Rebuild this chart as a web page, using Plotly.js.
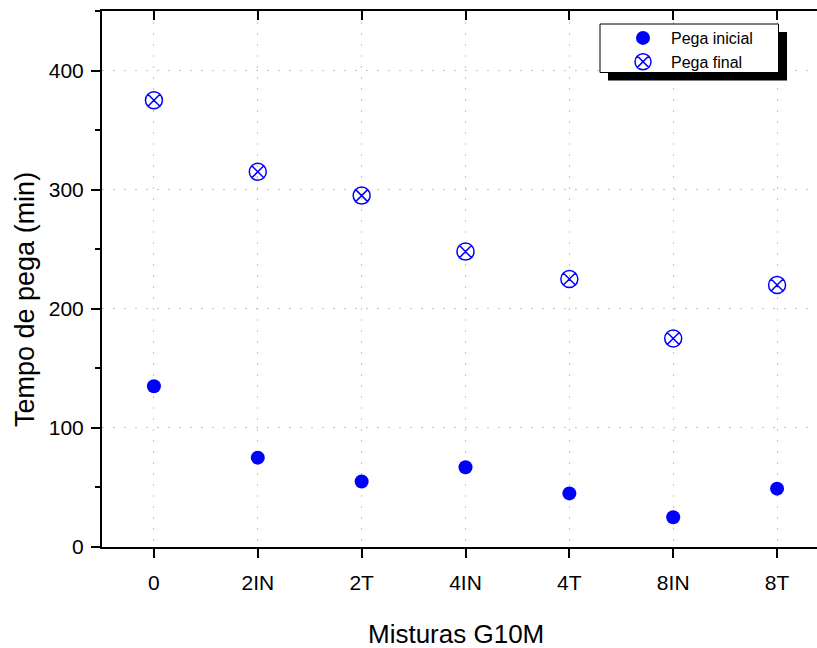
<!DOCTYPE html>
<html>
<head>
<meta charset="utf-8">
<script src="https://cdn.plot.ly/plotly-3.0.1.min.js"></script>
<style>
html,body{margin:0;padding:0;overflow:hidden;background:#fff;width:817px;height:648px;}
#chart{width:840px;height:648px;}
</style>
</head>
<body>
<div id="chart"></div>
<script>
// ---- data ----
const categories = ["0", "2IN", "2T", "4IN", "4T", "8IN", "8T"];
const pegaInicial = [135, 75, 55, 67, 45, 25, 49];
const pegaFinal = [375, 315, 295, 248, 225, 175, 220];
const seriesNames = ["Pega inicial", "Pega final"];
const yTickVals = [0, 100, 200, 300, 400];
const xTitle = "Misturas G10M";
const yTitle = "Tempo de pega (min)";

// ---- layout helpers ----
const W = 840, H = 648;
const L = 102, R = 11, T = 11, B = 101;
const PW = W - L - R, PH = H - T - B;
const px = v => (v - L) / PW;
const py = v => (H - B - v) / PH;
const FONT = "Liberation Sans, Arial, sans-serif";
const BLUE = "#0000ff";

const traces = [
  {
    x: categories, y: pegaInicial, name: seriesNames[0],
    type: "scatter", mode: "markers",
    marker: {symbol: "circle", size: 14, color: BLUE}
  },
  {
    x: categories, y: pegaFinal, name: seriesNames[1],
    type: "scatter", mode: "markers",
    marker: {symbol: "circle-x-open", size: 17, color: BLUE, line: {width: 1.5, color: BLUE}}
  }
];

const gridStyle = {showgrid: true, gridcolor: "#c4c4c4", gridwidth: 1, griddash: "2px,9px"};

const layout = {
  width: W, height: H,
  margin: {l: L, r: R, t: T, b: B, pad: 0},
  paper_bgcolor: "#fff", plot_bgcolor: "#fff",
  font: {family: FONT, color: "#000", size: 21},
  showlegend: true,
  legend: {
    x: px(615), y: py(21), xanchor: "left", yanchor: "top",
    bgcolor: "rgba(0,0,0,0)", borderwidth: 0,
    font: {family: FONT, size: 16, color: "#000"},
    tracegroupgap: 0, itemwidth: 46, traceorder: "normal"
  },
  xaxis: Object.assign({
    type: "category", categoryorder: "array", categoryarray: categories,
    range: [-0.5, 6.5], fixedrange: true,
    showline: true, linecolor: "#000", linewidth: 2,
    ticks: "outside", ticklen: 9, tickwidth: 2, tickcolor: "#000",
    tickfont: {size: 21, family: FONT}, ticklabelstandoff: 7,
    zeroline: false
  }, gridStyle),
  yaxis: Object.assign({
    range: [0, 450], tickvals: yTickVals, fixedrange: true,
    showline: true, linecolor: "#000", linewidth: 2,
    ticks: "outside", ticklen: 9, tickwidth: 2, tickcolor: "#000",
    tickfont: {size: 21, family: FONT}, ticklabelstandoff: 3,
    minor: {dtick: 50, tick0: 0, ticks: "outside", ticklen: 5, tickwidth: 2, tickcolor: "#000", showgrid: false},
    zeroline: false
  }, gridStyle),
  xaxis2: {
    overlaying: "x", side: "top", anchor: "y", range: [-0.5, 6.5],
    tick0: 0, dtick: 1, showticklabels: false, showgrid: false, zeroline: false,
    showline: true, linecolor: "#000", linewidth: 2,
    ticks: "inside", ticklen: 9, tickwidth: 2, tickcolor: "#000", fixedrange: true
  },
  yaxis2: {
    overlaying: "y", side: "right", anchor: "x", range: [0, 450],
    tickvals: yTickVals, showticklabels: false, showgrid: false, zeroline: false,
    showline: true, linecolor: "#000", linewidth: 2,
    ticks: "inside", ticklen: 9, tickwidth: 2, tickcolor: "#000", fixedrange: true
  },
  annotations: [
    {text: xTitle, xref: "paper", yref: "paper", x: px(456), y: py(634),
     xanchor: "center", yanchor: "middle", showarrow: false,
     font: {size: 26, family: FONT, color: "#000"}},
    {text: yTitle, xref: "paper", yref: "paper", x: px(25), y: py(300),
     xanchor: "center", yanchor: "middle", showarrow: false, textangle: -90,
     font: {size: 27, family: FONT, color: "#000"}}
  ],
  shapes: [
    {type: "rect", xref: "paper", yref: "paper", layer: "above",
     x0: px(608), x1: px(787), y0: py(32), y1: py(80.5),
     fillcolor: "#000", line: {width: 0}},
    {type: "rect", xref: "paper", yref: "paper", layer: "above",
     x0: px(600), x1: px(778.5), y0: py(24), y1: py(72.5),
     fillcolor: "#fff", line: {width: 1, color: "#000"}}
  ]
};

// invisible helper trace so the mirrored axes render
traces.push({x: [], y: [], xaxis: "x2", yaxis: "y2", showlegend: false, hoverinfo: "skip", type: "scatter", mode: "markers"});

Plotly.newPlot("chart", traces, layout, {displayModeBar: false, staticPlot: true});
</script>
</body>
</html>
